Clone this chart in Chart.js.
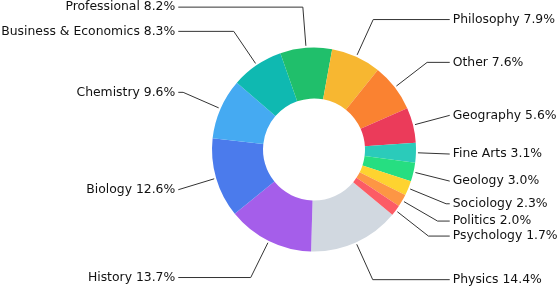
<!DOCTYPE html>
<html>
<head>
<meta charset="utf-8">
<script src="https://cdn.jsdelivr.net/npm/chart.js@4.4.1/dist/chart.umd.min.js"></script>
<style>
  html, body { margin: 0; padding: 0; background: #fff; }
  #wrap { width: 558px; height: 286px; }
</style>
</head>
<body>
<div id="wrap"><canvas id="chart" width="558" height="286"></canvas></div>
<script>
// Share of majors, in percent
const subjects = ['Physics', 'History', 'Biology', 'Chemistry', 'Business & Economics', 'Professional',
  'Philosophy', 'Other', 'Geography', 'Fine Arts', 'Geology', 'Sociology', 'Politics', 'Psychology'];
const shares = [14.4, 13.7, 12.6, 9.6, 8.3, 8.2, 7.9, 7.6, 5.6, 3.1, 3.0, 2.3, 2.0, 1.7];
const sliceColors = ['#d1d8e0', '#a55eea', '#4b7bec', '#45aaf2', '#0fb9b1', '#20bf6b',
  '#f7b731', '#fa8231', '#eb3b5a', '#2bcbba', '#26de81', '#fed330', '#fd9644', '#fc5c65'];

/* ── labels outside the ring, with elbow leader lines ── */
const outsideLabels = {
  id: 'outsideLabels',
  afterDatasetsDraw(chart) {
    const ctx = chart.ctx;
    const arcs = chart.getDatasetMeta(0).data;
    if (!arcs.length) return;
    const cx = arcs[0].x, cy = arcs[0].y, r = arcs[0].outerRadius;
    const colRight = cx + r * 1.36, colLeft = cx - r * 1.36;
    const items = arcs.map((arc, i) => {
      const a = (arc.startAngle + arc.endAngle) / 2;
      const c = Math.cos(a), s = Math.sin(a);
      return {
        text: `${subjects[i]} ${shares[i].toFixed(1)}%`,
        right: c >= 0,
        sx: cx + (r + 2) * c, sy: cy + (r + 2) * s,
        ex: cx + r * 1.4 * c, y: cy + r * 1.4 * s
      };
    });
    // push overlapping labels apart, top to bottom on each side
    [true, false].forEach(side => {
      const list = items.filter(d => d.right === side).sort((a, b) => a.y - b.y);
      for (let k = 1; k < list.length; k++) {
        if (list[k].y - list[k - 1].y < 15) list[k].y = list[k - 1].y + 15;
      }
    });
    ctx.save();
    ctx.font = '12.4px "DejaVu Sans", sans-serif';
    ctx.textBaseline = 'middle';
    ctx.fillStyle = '#111';
    ctx.strokeStyle = '#333';
    ctx.lineWidth = 1;
    items.forEach(d => {
      const lineEnd = d.right ? colRight - 3 : colLeft + 3;
      const ex = d.right ? Math.min(d.ex, lineEnd) : Math.max(d.ex, lineEnd);
      ctx.beginPath();
      ctx.moveTo(d.sx, d.sy);
      ctx.lineTo(ex, d.y);
      ctx.lineTo(lineEnd, d.y);
      ctx.stroke();
      ctx.textAlign = d.right ? 'left' : 'right';
      ctx.fillText(d.text, d.right ? colRight : colLeft, d.y);
    });
    ctx.restore();
  }
};

new Chart(document.getElementById('chart'), {
  type: 'doughnut',
  data: {
    labels: subjects,
    datasets: [{ data: shares, backgroundColor: sliceColors, borderWidth: 0 }]
  },
  options: {
    responsive: false,
    animation: false,
    cutout: '50%',
    rotation: 129.8,
    layout: { padding: { left: 212, right: 142, top: 47.5, bottom: 34.5 } },
    plugins: { legend: { display: false }, tooltip: { enabled: false } }
  },
  plugins: [outsideLabels]
});
</script>
</body>
</html>
